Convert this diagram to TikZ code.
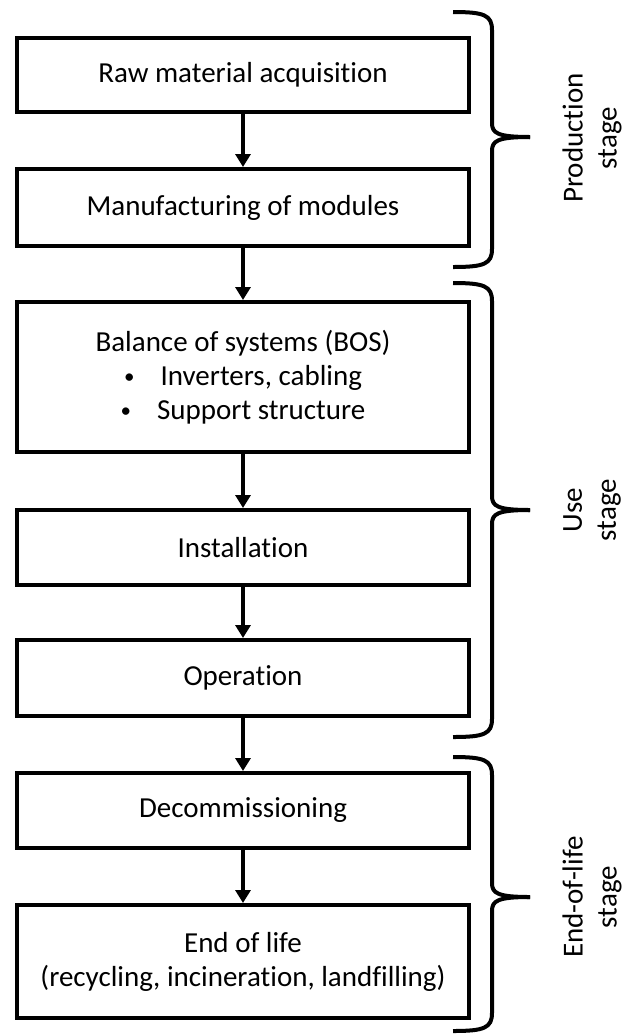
\documentclass[tikz,border=0pt]{standalone}
\usepackage{fontspec}
\setmainfont{Carlito}[Ligatures=NoCommon]
\usetikzlibrary{arrows.meta}
\newcommand\stagebrace[3]{%
  \draw[brace] (453,#1) .. controls (484,#1) and (492,#1+3) .. (492,#1+18) -- (492,#2-14) .. controls (492,#2-4) and (497,#2) .. (530,#2);
  \draw[brace] (453,#3) .. controls (484,#3) and (492,#3-3) .. (492,#3-18) -- (492,#2+14) .. controls (492,#2+4) and (497,#2) .. (530,#2);}
\newcommand\smallbullet{\raisebox{2bp}{\fontsize{21bp}{21bp}\selectfont\textbullet}}
\begin{document}
\begin{tikzpicture}[x=1bp,y=-1bp,
  box/.style={draw, line width=4bp, minimum width=452bp, inner sep=0pt, align=center,
    font=\fontsize{29bp}{34bp}\selectfont},
  flow/.style={line width=4bp, -{Triangle[width=15bp,length=13bp]}},
  brace/.style={line width=4bp, line join=round},
  stagetext/.style={rotate=90, align=center, inner sep=0pt,
    font=\fontsize{29bp}{34bp}\selectfont}]
\useasboundingbox (0,0) rectangle (627,1034);
\node[box, minimum height=74bp] (b1) at (243,75) {Raw material acquisition};
\node[box, minimum height=77bp] (b2) at (243,207.5) {Manufacturing of modules};
\node[box, minimum height=150bp] (b3) at (243,377) {Balance of systems (BOS)\\
  \smallbullet\hspace{26bp}Inverters, cabling\\
  \smallbullet\hspace{26bp}Support structure};
\node[box, minimum height=75bp] (b4) at (243,547.5) {Installation};
\node[box, minimum height=76bp] (b5) at (243,678) {Operation};
\node[box, minimum height=75bp] (b6) at (243,810.5) {Decommissioning};
\node[box, minimum height=113bp] (b7) at (243,961.5) {End of life\\(recycling, incineration, landfilling)};
\draw[flow] (b1) -- (b2);
\draw[flow] (b2) -- (b3);
\draw[flow] (b3) -- (b4);
\draw[flow] (b4) -- (b5);
\draw[flow] (b5) -- (b6);
\draw[flow] (b6) -- (b7);
\stagebrace{12}{137}{267}
\stagebrace{283}{510}{737}
\stagebrace{757}{897}{1031}
\node[stagetext] (s1) at (592,138) {Production\\stage};
\node[stagetext] (s2) at (592,510) {Use\\stage};
\node[stagetext] (s3) at (592,897) {End-of-life\\stage};
\end{tikzpicture}
\end{document}
